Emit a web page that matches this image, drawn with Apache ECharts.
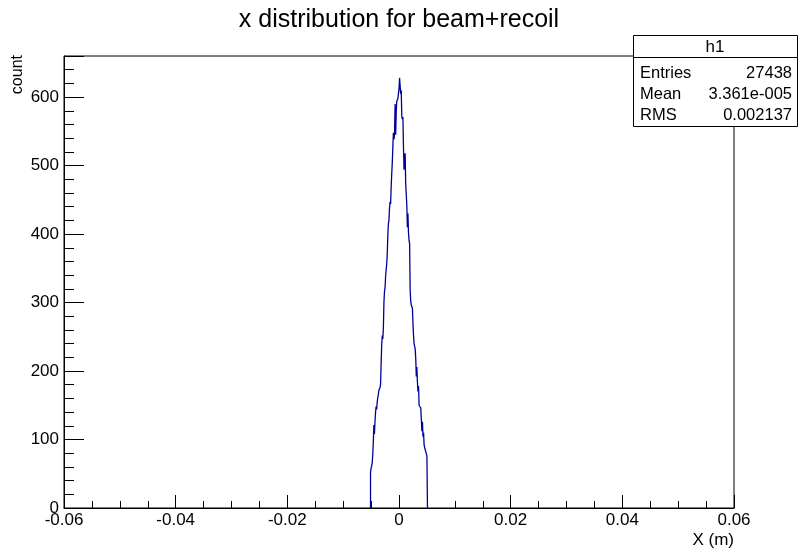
<!DOCTYPE html>
<html>
<head>
<meta charset="utf-8">
<script src="https://cdn.jsdelivr.net/npm/echarts@6/dist/echarts.min.js"></script>
<style>html,body{margin:0;padding:0;background:#fff;}#c{width:798px;height:550px;}</style>
</head>
<body>
<div id="c"></div>
<script>
// Histogram binning (0.0001 m per bin), first non-empty bin low edge
var binStart = -0.0051;
var binWidth = 0.0001;
var counts = [
  52, 58, 61, 66, 78, 96, 121, 108, 126, 140,
  148, 144, 155, 161, 166, 172, 170, 176, 181, 212,
  238, 252, 247, 262, 300, 316, 322, 338, 348, 356,
  372, 398, 415, 420, 438, 447, 444, 470, 488, 505,
  528, 548, 538, 546, 590, 545, 577, 594, 592, 598,
  596, 612, 628, 617, 605, 610, 572, 568, 571, 527,
  494, 512, 518, 474, 458, 442, 410, 430, 402, 391,
  386, 318, 302, 296, 294, 292, 270, 252, 240, 236,
  232, 218, 192, 206, 184, 170, 178, 150, 148, 152,
  146, 130, 112, 126, 104, 110, 92, 88, 86, 82,
  80, 76
];
var xTicks = [-0.06, -0.04, -0.02, 0, 0.02, 0.04, 0.06];
var yTicks = [0, 100, 200, 300, 400, 500, 600];
var statsNames = ["Entries", "Mean", "RMS"];
var statsValues = ["27438", "3.361e-005", "0.002137"];
var titleText = "x distribution for beam+recoil";
var histName = "h1";

var pts = [[binStart, 0]];
for (var i = 0; i < counts.length; i++) {
  pts.push([+(binStart + i * binWidth).toFixed(5), counts[i]]);
}
pts.push([+(binStart + counts.length * binWidth).toFixed(5), 0]);

var font = 'Liberation Sans, Arial, Helvetica, sans-serif';
var chart = echarts.init(document.getElementById('c'), null, {renderer: 'canvas'});

var gfx = [];
// stats box
var bx = 633, by = 35, bw = 164, bh = 91, hdr = 22;
gfx.push({type: 'rect', z: 100, shape: {x: bx + 0.5, y: by + 0.5, width: bw, height: bh},
  style: {fill: '#fff', stroke: '#000', lineWidth: 1}});
gfx.push({type: 'line', z: 101, shape: {x1: bx, y1: by + hdr + 0.5, x2: bx + bw, y2: by + hdr + 0.5},
  style: {stroke: '#000', lineWidth: 1}});
gfx.push({type: 'text', z: 102, x: bx + bw / 2, y: by + hdr / 2 + 1,
  style: {text: histName, font: '17px ' + font, fill: '#000', align: 'center', verticalAlign: 'middle'}});
for (var k = 0; k < statsNames.length; k++) {
  var ry = by + hdr + 16 + k * 21;
  gfx.push({type: 'text', z: 102, x: bx + 7, y: ry,
    style: {text: statsNames[k], font: '16.5px ' + font, fill: '#000', align: 'left', verticalAlign: 'middle'}});
  gfx.push({type: 'text', z: 102, x: bx + bw - 5, y: ry,
    style: {text: statsValues[k], font: '16.5px ' + font, fill: '#000', align: 'right', verticalAlign: 'middle'}});
}
// axis titles
gfx.push({type: 'text', z: 102, x: 734, y: 540,
  style: {text: 'X (m)', font: '17px ' + font, fill: '#000', align: 'right', verticalAlign: 'middle'}});
gfx.push({type: 'text', z: 102, x: 18, y: 55, rotation: Math.PI / 2,
  style: {text: 'count', font: '16px ' + font, fill: '#000', align: 'right', verticalAlign: 'middle'}});

function fmtX(v) {
  var r = Math.round(v * 100) / 100;
  if (Math.abs(r) < 1e-9) return '0';
  return r.toFixed(2);
}

chart.setOption({
  animation: false,
  backgroundColor: '#fff',
  title: {
    text: titleText, left: 'center', top: 3,
    textStyle: {fontFamily: font, fontSize: 25, fontWeight: 'normal', color: '#000'}
  },
  grid: {left: 64, right: 64, top: 56, bottom: 42, show: true, borderColor: '#000', borderWidth: 1, backgroundColor: 'transparent'},
  xAxis: {
    type: 'value', min: xTicks[0], max: xTicks[xTicks.length - 1], interval: 0.02,
    axisLine: {show: true, onZero: false, lineStyle: {color: '#000', width: 1}},
    axisTick: {show: true, inside: true, length: 13, lineStyle: {color: '#000'}},
    minorTick: {show: true, splitNumber: 4, length: 7, lineStyle: {color: '#000'}},
    splitLine: {show: false},
    axisLabel: {color: '#000', fontFamily: font, fontSize: 17, margin: 4, formatter: fmtX}
  },
  yAxis: {
    type: 'value', min: 0, max: 660, interval: 100,
    axisLine: {show: true, onZero: false, lineStyle: {color: '#000', width: 1}},
    axisTick: {show: true, inside: true, length: 20, lineStyle: {color: '#000'}},
    minorTick: {show: true, splitNumber: 5, length: 10, lineStyle: {color: '#000'}},
    splitLine: {show: false},
    axisLabel: {color: '#000', fontFamily: font, fontSize: 17, margin: 5, showMaxLabel: false,
      formatter: function (v) { return yTicks.indexOf(v) >= 0 ? String(v) : ''; }}
  },
  series: [{
    type: 'line', step: 'end', data: pts, symbol: 'none',
    lineStyle: {color: '#000099', width: 1.3}, z: 5
  }],
  graphic: gfx
});
</script>
</body>
</html>
